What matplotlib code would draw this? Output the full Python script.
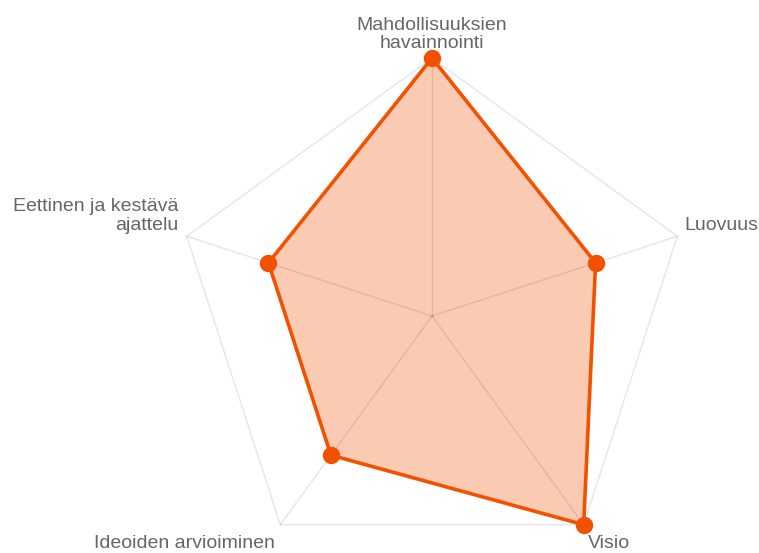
import numpy as np
import matplotlib
matplotlib.use('Agg')
import matplotlib.pyplot as plt

plt.rcParams['font.family'] = ['Liberation Sans', 'DejaVu Sans']

# Data
labels = ['Mahdollisuuksien\nhavainnointi', 'Luovuus', 'Visio',
          'Ideoiden arvioiminen', 'Eettinen ja kestävä\najattelu']
values = [3, 2, 3, 2, 2]
scale_max = 3

LINE = '#f25200'
GRID = (0, 0, 0, 0.1)
TEXT = '#666666'

n = len(labels)
theta = np.linspace(0, 2 * np.pi, n, endpoint=False)

fig = plt.figure(figsize=(7.59, 5.53), dpi=100)
ax = fig.add_axes([0.2293, -0.038, 0.6798, 0.9331], projection='polar')
ax.set_theta_offset(np.pi / 2)
ax.set_theta_direction(-1)
ax.set_ylim(0, scale_max)
ax.grid(False)
ax.spines['polar'].set_visible(False)
ax.set_xticks([])
ax.set_yticks([])
ax.patch.set_alpha(0)

# pentagon grid + spokes
tt = np.append(theta, theta[0])
ax.plot(tt, [scale_max] * (n + 1), color=GRID, lw=1, zorder=3, clip_on=False)
for t in theta:
    ax.plot([t, t], [0, scale_max], color=GRID, lw=1, zorder=3, clip_on=False)

# data
vv = np.append(values, values[0])
ax.fill(tt, vv, color=LINE, alpha=0.3, lw=0, zorder=2, clip_on=False)
ax.plot(tt, vv, color=LINE, lw=2.6, zorder=4, clip_on=False)
ax.plot(theta, values, 'o', color=LINE, ms=11.5, zorder=5, clip_on=False)

# point labels
offsets = [((0, 4), 'center', 'bottom', 'center'),
           ((5, 8), 'left', 'center', 'left'),
           ((3, -7.5), 'left', 'top', 'left'),
           ((-4, -7.5), 'right', 'top', 'right'),
           ((-6, 2), 'right', 'bottom', 'right')]
for t, lab, (off, ha, va, ma) in zip(theta, labels, offsets):
    ax.annotate(lab, xy=(t, scale_max), xytext=off, textcoords='offset points',
                ha=ha, va=va, multialignment=ma, fontsize=14, color=TEXT,
                linespacing=1.15, annotation_clip=False)

fig.savefig('out.png', dpi=100)
